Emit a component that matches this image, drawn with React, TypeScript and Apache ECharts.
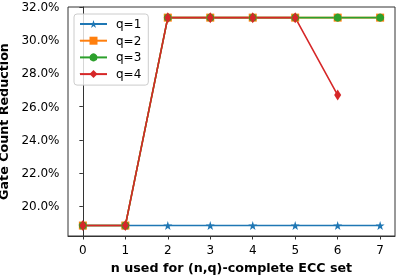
import React, { useEffect, useRef } from "react";
import * as echarts from "echarts";

const xValues = [0, 1, 2, 3, 4, 5, 6, 7];
const q1 = [18.84, 18.84, 18.84, 18.84, 18.84, 18.84, 18.84, 18.84];
const q2 = [18.84, 18.84, 31.36, 31.36, 31.36, 31.36, 31.36, 31.36];
const q3 = [18.84, 18.84, 31.36, 31.36, 31.36, 31.36, 31.36, 31.36];
const q4 = [18.84, 18.84, 31.36, 31.36, 31.36, 31.36, 26.7];
const yTicks = [20, 22, 24, 26, 28, 30, 32];
const seriesNames = ["q=1", "q=2", "q=3", "q=4"];

const STAR =
  "path://M0,-1L0.2245,-0.309L0.951,-0.309L0.363,0.118L0.588,0.809L0,0.382L-0.588,0.809L-0.363,0.118L-0.951,-0.309L-0.2245,-0.309Z";

export default function App() {
  const ref = useRef<HTMLDivElement>(null);
  useEffect(() => {
    const chart = echarts.init(ref.current!, null, { renderer: "svg" });
    const font = "DejaVu Sans";
    const mk = (name: string, vals: number[], color: string, symbol: string, size: any) => ({
      name,
      type: "line",
      data: vals.map((v, i) => [xValues[i], v]),
      symbol,
      symbolSize: size,
      showAllSymbol: true,
      lineStyle: { color, width: 1.6 },
      itemStyle: { color, borderWidth: 0 },
      emphasis: { disabled: true },
    });
    chart.setOption({
      animation: false,
      textStyle: { fontFamily: font },
      grid: {
        left: 68, right: 4, top: 7, bottom: 40,
        containLabel: false, outerBoundsMode: "none",
        show: true, borderColor: "#333", borderWidth: 1,
      },
      legend: {
        orient: "vertical",
        left: 74,
        top: 14,
        itemWidth: 27,
        itemHeight: 10,
        itemGap: 4.7,
        padding: [4, 7, 5, 5],
        borderColor: "#ccc",
        borderWidth: 1,
        borderRadius: 3,
        backgroundColor: "rgba(255,255,255,0.8)",
        textStyle: { fontFamily: font, fontSize: 12, color: "#000", padding: [0, 0, 0, 4] },
        data: seriesNames,
      },
      xAxis: {
        type: "value",
        min: -0.35,
        max: 7.35,
        name: "n used for (n,q)-complete ECC set",
        nameLocation: "middle",
        nameGap: 23,
        nameTextStyle: { fontFamily: font, fontWeight: "bold", fontSize: 12.7, color: "#000" },
        axisLine: { lineStyle: { color: "#333" } },
        axisTick: { show: true, length: 3.5, customValues: xValues, lineStyle: { color: "#333" } },
        axisLabel: { customValues: xValues, fontSize: 12, color: "#000", margin: 8, formatter: (v: number) => String(v) },
        splitLine: { show: false },
      },
      yAxis: {
        type: "value",
        min: 18.21,
        max: 32,
        name: "Gate Count Reduction",
        nameLocation: "middle",
        nameGap: 50,
        nameTextStyle: { fontFamily: font, fontWeight: "bold", fontSize: 12.7, color: "#000" },
        axisLine: { show: true, lineStyle: { color: "#333" } },
        axisTick: { show: true, length: 3.5, customValues: yTicks, lineStyle: { color: "#333" } },
        axisLabel: { customValues: yTicks, fontSize: 12, color: "#000", margin: 8.5, formatter: (v: number) => v.toFixed(1) + "%" },
        splitLine: { show: false },
      },
      series: [
        mk("q=1", q1, "#1f77b4", STAR, [9, 9]),
        mk("q=2", q2, "#ff7f0e", "rect", 8),
        mk("q=3", q3, "#2ca02c", "circle", 8),
        mk("q=4", q4, "#d62728", "diamond", [7, 11]),
      ],
    });
    return () => chart.dispose();
  }, []);
  return <div ref={ref} style={{ position: "fixed", left: 0, top: 0, width: 399, height: 276 }} />;
}
